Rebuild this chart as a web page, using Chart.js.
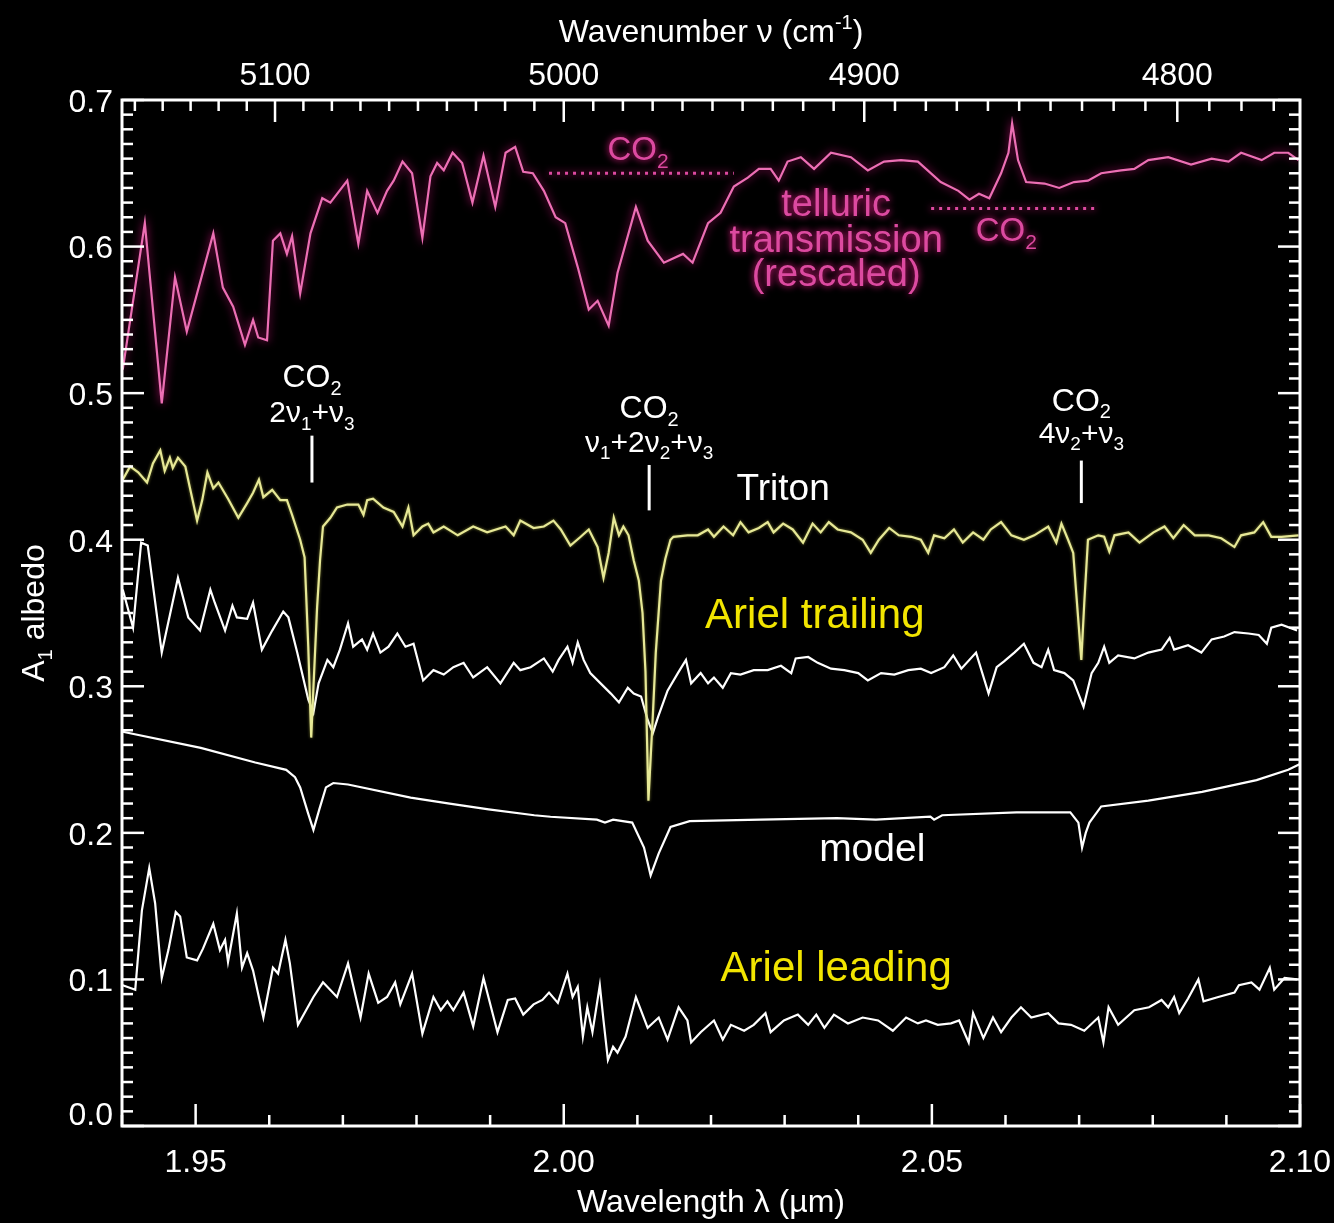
<!DOCTYPE html>
<html>
<head>
<meta charset="utf-8">
<title>Triton / Ariel CO2 spectra</title>
<script src="https://cdn.jsdelivr.net/npm/chart.js@4.4.1/dist/chart.umd.min.js"></script>
<style>
  html, body { margin: 0; padding: 0; background: #000; }
  #wrap { width: 1334px; height: 1223px; }
</style>
</head>
<body>
<div id="wrap"><canvas id="spectra" width="1334" height="1223"></canvas></div>
<script>
// axis ranges and labelled ticks
const wavelengthRange = [1.94, 2.10];
const albedoRange = [0.0, 0.7];
const wavelengthTicks = [1.95, 2.00, 2.05, 2.10];
const wavenumberTicks = [5100, 5000, 4900, 4800];
const albedoTicks = [0.0, 0.1, 0.2, 0.3, 0.4, 0.5, 0.6, 0.7];

// telluric transmission (rescaled)
const telluricWl = [1.9401,1.9431,1.9454,1.9472,1.9488,1.9524,1.9537,1.9551,1.9567,1.9578,
  1.9585,1.9597,1.9605,1.9615,1.9624,1.9631,1.9642,1.9656,1.9672,1.9683,
  1.9706,1.9721,1.9733,1.9747,1.9760,1.9769,1.9781,1.9794,1.9808,1.9819,
  1.9828,1.9837,1.9849,1.9862,1.9876,1.9891,1.9907,1.9921,1.9934,1.9945,
  1.9958,1.9973,1.9989,2.0002,2.0019,2.0034,2.0046,2.0061,2.0073,2.0098,
  2.0114,2.0136,2.0162,2.0175,2.0196,2.0213,2.0231,2.0250,2.0265,2.0281,
  2.0292,2.0304,2.0322,2.0340,2.0363,2.0390,2.0413,2.0435,2.0458,2.0481,
  2.0512,2.0536,2.0551,2.0564,2.0578,2.0594,2.0604,2.0609,2.0617,2.0628,
  2.0653,2.0673,2.0693,2.0712,2.0730,2.0757,2.0775,2.0794,2.0821,2.0852,
  2.0880,2.0903,2.0920,2.0948,2.0965,2.0984,2.0998];
const telluricAlb = [0.516,0.616,0.493,0.579,0.542,0.609,0.572,0.559,0.533,0.550,
  0.538,0.536,0.604,0.609,0.595,0.607,0.568,0.609,0.633,0.630,
  0.645,0.602,0.638,0.623,0.638,0.645,0.658,0.650,0.606,0.648,
  0.657,0.652,0.664,0.657,0.630,0.662,0.627,0.664,0.668,0.651,
  0.650,0.638,0.620,0.616,0.586,0.557,0.563,0.546,0.582,0.627,
  0.604,0.589,0.595,0.589,0.616,0.623,0.641,0.647,0.653,0.653,
  0.645,0.658,0.661,0.653,0.664,0.661,0.652,0.658,0.659,0.658,
  0.644,0.638,0.632,0.636,0.633,0.650,0.664,0.684,0.659,0.644,
  0.643,0.640,0.644,0.645,0.650,0.652,0.653,0.659,0.661,0.656,
  0.660,0.658,0.664,0.659,0.664,0.664,0.659];

// Triton
const tritonWl = [1.9401,1.9411,1.9422,1.9434,1.9442,1.9452,1.9458,1.9465,1.9469,1.9476,
  1.9486,1.9492,1.9502,1.9509,1.9516,1.9524,1.9531,1.9544,1.9558,1.9570,
  1.9578,1.9586,1.9592,1.9604,1.9615,1.9624,1.9631,1.9642,1.9648,1.9650,
  1.9653,1.9657,1.9660,1.9665,1.9669,1.9673,1.9683,1.9692,1.9706,1.9721,
  1.9728,1.9733,1.9741,1.9755,1.9769,1.9781,1.9789,1.9796,1.9808,1.9816,
  1.9823,1.9837,1.9856,1.9877,1.9896,1.9921,1.9932,1.9941,1.9959,1.9973,
  1.9986,1.9996,2.0009,2.0023,2.0034,2.0046,2.0054,2.0061,2.0068,2.0075,
  2.0081,2.0088,2.0095,2.0102,2.0107,2.0111,2.0115,2.0121,2.0125,2.0132,
  2.0138,2.0145,2.0149,2.0168,2.0182,2.0196,2.0204,2.0217,2.0230,2.0240,
  2.0251,2.0265,2.0277,2.0285,2.0298,2.0311,2.0325,2.0338,2.0349,2.0360,
  2.0372,2.0390,2.0406,2.0417,2.0428,2.0442,2.0455,2.0472,2.0485,2.0495,
  2.0503,2.0517,2.0530,2.0542,2.0556,2.0570,2.0580,2.0594,2.0608,2.0625,
  2.0639,2.0658,2.0669,2.0676,2.0685,2.0692,2.0696,2.0703,2.0707,2.0712,
  2.0726,2.0734,2.0741,2.0748,2.0767,2.0782,2.0801,2.0816,2.0828,2.0842,
  2.0857,2.0876,2.0893,2.0911,2.0920,2.0938,2.0950,2.0961,2.0975,2.0998];
const tritonAlb = [0.441,0.450,0.446,0.439,0.452,0.461,0.447,0.456,0.449,0.456,
  0.450,0.436,0.413,0.427,0.446,0.435,0.439,0.428,0.415,0.425,
  0.432,0.441,0.429,0.434,0.427,0.427,0.417,0.400,0.388,0.364,
  0.327,0.265,0.299,0.354,0.386,0.409,0.415,0.422,0.424,0.424,
  0.417,0.427,0.428,0.422,0.419,0.409,0.422,0.403,0.409,0.411,
  0.405,0.409,0.403,0.409,0.405,0.409,0.403,0.413,0.408,0.409,
  0.413,0.407,0.396,0.402,0.407,0.395,0.374,0.391,0.415,0.403,
  0.409,0.403,0.386,0.372,0.350,0.310,0.222,0.280,0.323,0.372,
  0.387,0.400,0.402,0.403,0.403,0.407,0.402,0.409,0.403,0.412,
  0.405,0.408,0.412,0.405,0.411,0.407,0.398,0.411,0.405,0.412,
  0.407,0.405,0.400,0.391,0.400,0.408,0.403,0.402,0.400,0.391,
  0.403,0.401,0.407,0.398,0.405,0.400,0.407,0.412,0.403,0.400,
  0.403,0.409,0.398,0.411,0.400,0.391,0.364,0.318,0.357,0.400,
  0.403,0.402,0.392,0.403,0.405,0.398,0.405,0.409,0.401,0.410,
  0.403,0.403,0.401,0.395,0.403,0.405,0.412,0.402,0.402,0.403];

// Ariel trailing hemisphere
const trailingWl = [1.9401,1.9415,1.9426,1.9435,1.9454,1.9476,1.9490,1.9506,1.9520,1.9526,
  1.9540,1.9550,1.9556,1.9570,1.9578,1.9590,1.9604,1.9619,1.9626,1.9638,
  1.9646,1.9653,1.9660,1.9667,1.9679,1.9687,1.9696,1.9707,1.9714,1.9726,
  1.9733,1.9741,1.9751,1.9762,1.9774,1.9785,1.9796,1.9809,1.9823,1.9837,
  1.9850,1.9864,1.9877,1.9896,1.9914,1.9932,1.9941,1.9955,1.9973,1.9985,
  1.9993,2.0005,2.0012,2.0019,2.0027,2.0036,2.0050,2.0064,2.0075,2.0087,
  2.0095,2.0105,2.0114,2.0121,2.0128,2.0141,2.0155,2.0166,2.0173,2.0186,
  2.0196,2.0204,2.0216,2.0227,2.0240,2.0258,2.0277,2.0295,2.0309,2.0315,
  2.0332,2.0345,2.0363,2.0381,2.0400,2.0413,2.0431,2.0449,2.0468,2.0485,
  2.0499,2.0517,2.0529,2.0540,2.0560,2.0577,2.0588,2.0598,2.0612,2.0625,
  2.0638,2.0649,2.0658,2.0666,2.0680,2.0692,2.0706,2.0717,2.0726,2.0734,
  2.0741,2.0753,2.0775,2.0794,2.0812,2.0823,2.0829,2.0848,2.0866,2.0880,
  2.0897,2.0911,2.0930,2.0944,2.0955,2.0961,2.0975,2.0996];
const trailingAlb = [0.366,0.340,0.398,0.396,0.323,0.374,0.347,0.338,0.366,0.357,
  0.338,0.355,0.347,0.346,0.357,0.325,0.338,0.351,0.347,0.323,
  0.306,0.291,0.282,0.302,0.318,0.313,0.325,0.343,0.327,0.332,
  0.325,0.336,0.323,0.327,0.336,0.327,0.329,0.304,0.311,0.308,
  0.313,0.316,0.306,0.313,0.302,0.316,0.311,0.313,0.319,0.310,
  0.318,0.327,0.316,0.330,0.318,0.309,0.302,0.295,0.289,0.299,
  0.295,0.293,0.277,0.268,0.279,0.297,0.309,0.318,0.302,0.309,
  0.302,0.306,0.299,0.309,0.308,0.311,0.311,0.314,0.309,0.319,
  0.320,0.316,0.312,0.311,0.309,0.304,0.309,0.308,0.311,0.312,
  0.309,0.313,0.321,0.312,0.323,0.295,0.313,0.317,0.323,0.329,
  0.316,0.313,0.325,0.311,0.309,0.304,0.286,0.309,0.316,0.327,
  0.316,0.321,0.319,0.323,0.325,0.333,0.325,0.328,0.323,0.332,
  0.334,0.337,0.336,0.335,0.329,0.340,0.342,0.338];

// model spectrum
const modelWl = [1.9401,1.9507,1.9581,1.9623,1.9635,1.9642,1.9653,1.9660,1.9668,1.9677,
  1.9687,1.9707,1.9792,1.9845,1.9898,1.9960,1.9982,2.0045,2.0056,2.0067,
  2.0093,2.0109,2.0118,2.0129,2.0145,2.0171,2.0267,2.0371,2.0424,2.0498,
  2.0503,2.0514,2.0615,2.0688,2.0699,2.0704,2.0709,2.0714,2.0730,2.0794,
  2.0867,2.0941,2.0984,2.1000];
const modelAlb = [0.269,0.258,0.248,0.243,0.238,0.231,0.213,0.202,0.216,0.231,
  0.234,0.233,0.224,0.220,0.216,0.212,0.211,0.209,0.207,0.209,
  0.207,0.190,0.171,0.186,0.204,0.208,0.209,0.210,0.209,0.211,
  0.209,0.212,0.214,0.214,0.207,0.190,0.200,0.207,0.218,0.222,
  0.228,0.236,0.243,0.247];

// Ariel leading hemisphere
const leadingWl = [1.9401,1.9418,1.9427,1.9437,1.9445,1.9454,1.9463,1.9473,1.9479,1.9488,
  1.9502,1.9510,1.9524,1.9533,1.9540,1.9544,1.9556,1.9563,1.9570,1.9578,
  1.9592,1.9605,1.9612,1.9622,1.9628,1.9639,1.9660,1.9673,1.9692,1.9707,
  1.9724,1.9735,1.9748,1.9760,1.9771,1.9778,1.9794,1.9808,1.9823,1.9833,
  1.9842,1.9850,1.9864,1.9877,1.9891,1.9910,1.9924,1.9934,1.9945,1.9959,
  1.9971,1.9980,1.9992,2.0005,2.0012,2.0019,2.0026,2.0032,2.0039,2.0049,
  2.0054,2.0060,2.0067,2.0073,2.0084,2.0098,2.0114,2.0129,2.0141,2.0156,
  2.0168,2.0173,2.0186,2.0204,2.0216,2.0227,2.0245,2.0258,2.0274,2.0281,
  2.0299,2.0318,2.0332,2.0343,2.0354,2.0367,2.0386,2.0406,2.0427,2.0447,
  2.0465,2.0481,2.0492,2.0508,2.0526,2.0537,2.0550,2.0556,2.0570,2.0583,
  2.0594,2.0608,2.0621,2.0635,2.0658,2.0672,2.0689,2.0707,2.0726,2.0733,
  2.0740,2.0753,2.0775,2.0795,2.0812,2.0821,2.0829,2.0836,2.0848,2.0862,
  2.0869,2.0889,2.0911,2.0917,2.0934,2.0945,2.0959,2.0965,2.0979,2.0996];
const leadingAlb = [0.096,0.093,0.147,0.176,0.152,0.101,0.120,0.146,0.143,0.115,
  0.113,0.121,0.138,0.120,0.127,0.112,0.145,0.108,0.118,0.106,
  0.074,0.108,0.104,0.127,0.111,0.069,0.088,0.098,0.088,0.111,
  0.074,0.104,0.084,0.088,0.098,0.083,0.104,0.063,0.088,0.079,
  0.085,0.079,0.091,0.068,0.101,0.064,0.086,0.087,0.076,0.083,
  0.086,0.091,0.084,0.104,0.088,0.095,0.061,0.081,0.064,0.096,
  0.072,0.045,0.054,0.050,0.061,0.088,0.067,0.074,0.059,0.081,
  0.072,0.057,0.064,0.072,0.059,0.069,0.065,0.069,0.077,0.064,
  0.072,0.076,0.069,0.076,0.067,0.076,0.070,0.074,0.072,0.065,
  0.074,0.070,0.072,0.069,0.070,0.072,0.057,0.077,0.060,0.074,
  0.064,0.074,0.081,0.074,0.077,0.070,0.069,0.065,0.074,0.057,
  0.081,0.069,0.079,0.081,0.086,0.081,0.088,0.077,0.087,0.100,
  0.085,0.088,0.091,0.096,0.098,0.093,0.108,0.093,0.101,0.100];

// CO2 bands marked on the plot
const bandWl = [1.9658, 2.0116, 2.0703];
const bandModes = ["2ν_{1}+ν_{3}", "ν_{1}+2ν_{2}+ν_{3}", "4ν_{2}+ν_{3}"];
// telluric CO2 band extents
const telluricBandRanges = [[1.9980, 2.0231], [2.0499, 2.0721]];

const FONT = '"Liberation Sans", Arial, Helvetica, sans-serif';
const MAGENTA = "#dc4aa0";
const YELLOW = "#f2e500";

function pairs(wl, alb) {
  return wl.map((w, i) => ({ x: w, y: alb[i] }));
}

// tiny rich-text: "CO_{2}" -> subscript, "cm^{-1}" -> superscript
function richParts(str) {
  const parts = [];
  const re = /([_^])\{([^}]*)\}|[^_^]+/g;
  let m;
  while ((m = re.exec(str))) {
    if (m[1]) parts.push({ t: m[2], s: m[1] === "_" ? "sub" : "sup" });
    else parts.push({ t: m[0], s: null });
  }
  return parts;
}

function drawRich(ctx, str, x, y, size, align) {
  const parts = richParts(str);
  const small = Math.round(size * 0.64);
  let w = 0;
  parts.forEach(p => {
    ctx.font = `${p.s ? small : size}px ${FONT}`;
    p.w = ctx.measureText(p.t).width;
    w += p.w;
  });
  let cx = align === "left" ? x : align === "right" ? x - w : x - w / 2;
  ctx.textAlign = "left";
  ctx.textBaseline = "alphabetic";
  parts.forEach(p => {
    ctx.font = `${p.s ? small : size}px ${FONT}`;
    const dy = p.s === "sub" ? size * 0.24 : p.s === "sup" ? -size * 0.4 : 0;
    ctx.fillText(p.t, cx, y + dy);
    cx += p.w;
  });
}

const spectrumFrame = {
  id: "spectrumFrame",
  beforeDraw(chart) {
    const { ctx, width, height } = chart;
    ctx.save();
    ctx.fillStyle = "#000";
    ctx.fillRect(0, 0, width, height);
    ctx.restore();
  },
  beforeDatasetDraw(chart, args) {
    const ds = chart.data.datasets[args.index];
    if (ds.glowColor) {
      chart.ctx.save();
      chart.ctx.shadowColor = ds.glowColor;
      chart.ctx.shadowBlur = ds.glowBlur;
    }
  },
  afterDatasetDraw(chart, args) {
    const ds = chart.data.datasets[args.index];
    if (ds.glowColor) chart.ctx.restore();
  },
  afterDatasetsDraw(chart) {
    const { ctx, chartArea: a, scales } = chart;
    const X = v => scales.x.getPixelForValue(v);
    const Y = v => scales.y.getPixelForValue(v);
    const seg = (x1, y1, x2, y2) => {
      ctx.beginPath();
      ctx.moveTo(x1, y1);
      ctx.lineTo(x2, y2);
      ctx.stroke();
    };
    const near = (list, v, eps) => list.some(t => Math.abs(t - v) < eps);

    ctx.save();
    ctx.strokeStyle = "#fff";
    ctx.fillStyle = "#fff";
    ctx.lineWidth = 3;
    ctx.strokeRect(a.left, a.top, a.right - a.left, a.bottom - a.top);

    ctx.lineWidth = 2.5;
    // bottom wavelength ticks, every 0.01 um
    for (let v = wavelengthRange[0]; v <= wavelengthRange[1] + 1e-9; v += 0.01) {
      const px = X(v);
      const len = near(wavelengthTicks, v, 1e-6) ? 22 : 11;
      seg(px, a.bottom, px, a.bottom - len);
    }
    // top wavenumber ticks, every 10 cm-1
    const wnHi = Math.floor(1e4 / wavelengthRange[0] / 10) * 10;
    const wnLo = Math.ceil(1e4 / wavelengthRange[1] / 10) * 10;
    for (let wn = wnLo; wn <= wnHi; wn += 10) {
      const px = X(1e4 / wn);
      const len = wn % 100 === 0 ? 22 : 11;
      seg(px, a.top, px, a.top + len);
    }
    // albedo ticks left and right, every 0.01
    for (let i = 0; i <= Math.round((albedoRange[1] - albedoRange[0]) / 0.01); i++) {
      const v = albedoRange[0] + i * 0.01;
      const py = Y(v);
      const len = near(albedoTicks, v, 1e-6) ? 22 : 11;
      seg(a.left, py, a.left + len, py);
      seg(a.right, py, a.right - len, py);
    }

    // tick labels
    ctx.font = `32px ${FONT}`;
    ctx.textAlign = "center";
    ctx.textBaseline = "alphabetic";
    wavelengthTicks.forEach(v => ctx.fillText(v.toFixed(2), X(v), a.bottom + 46));
    wavenumberTicks.forEach(wn => ctx.fillText(String(wn), X(1e4 / wn), a.top - 15));
    ctx.textAlign = "right";
    ctx.textBaseline = "middle";
    albedoTicks.forEach(v => ctx.fillText(v.toFixed(1), a.left - 9, Math.min(Y(v) + 3, a.bottom - 10)));

    // axis titles
    drawRich(ctx, "Wavenumber ν (cm^{-1})", (a.left + a.right) / 2, a.top - 58, 32, "center");
    drawRich(ctx, "Wavelength λ (µm)", (a.left + a.right) / 2, a.bottom + 86, 32, "center");
    ctx.save();
    ctx.translate(44, (a.top + a.bottom) / 2);
    ctx.rotate(-Math.PI / 2);
    drawRich(ctx, "A_{1} albedo", 0, 0, 32, "center");
    ctx.restore();

    // CO2 band markers
    const bandLayout = [
      { name: 0.504, mode: 0.480, from: 0.471, to: 0.439 },
      { name: 0.483, mode: 0.460, from: 0.451, to: 0.420 },
      { name: 0.488, mode: 0.466, from: 0.454, to: 0.425 }
    ];
    ctx.lineWidth = 3;
    bandWl.forEach((w, i) => {
      const L = bandLayout[i];
      drawRich(ctx, "CO_{2}", X(w), Y(L.name), 32, "center");
      drawRich(ctx, bandModes[i], X(w), Y(L.mode), 30, "center");
      seg(X(w), Y(L.from), X(w), Y(L.to));
    });

    // series labels
    ctx.fillStyle = "#fff";
    drawRich(ctx, "Triton", X(2.0298), Y(0.427), 37, "center");
    drawRich(ctx, "model", X(2.0419), Y(0.181), 39, "center");
    ctx.fillStyle = YELLOW;
    drawRich(ctx, "Ariel trailing", X(2.0341), Y(0.340), 42, "center");
    drawRich(ctx, "Ariel leading", X(2.0370), Y(0.099), 42, "center");

    // telluric labels with a magenta glow
    ctx.shadowColor = "#ff1f93";
    ctx.shadowBlur = 7;
    ctx.fillStyle = MAGENTA;
    ctx.strokeStyle = MAGENTA;
    drawRich(ctx, "telluric", X(2.0370), Y(0.621), 38, "center");
    drawRich(ctx, "transmission", X(2.0370), Y(0.596), 38, "center");
    drawRich(ctx, "(rescaled)", X(2.0370), Y(0.573), 38, "center");
    drawRich(ctx, "CO_{2}", X(2.0101), Y(0.659), 33, "center");
    drawRich(ctx, "CO_{2}", X(2.0601), Y(0.604), 33, "center");
    ctx.lineWidth = 3;
    ctx.setLineDash([3, 5]);
    const bandLevels = [0.650, 0.626];
    telluricBandRanges.forEach((r, i) => seg(X(r[0]), Y(bandLevels[i]), X(r[1]), Y(bandLevels[i])));
    ctx.restore();
  }
};

const hidden = { display: false };
const canvas = document.getElementById("spectra");
new Chart(canvas, {
  type: "line",
  data: {
    datasets: [
      { label: "Triton", data: pairs(tritonWl, tritonAlb), borderColor: "#e6e896", borderWidth: 2.2, glowColor: "rgba(200,200,80,0.6)", glowBlur: 3 },
      { label: "telluric transmission", data: pairs(telluricWl, telluricAlb), borderColor: "#ec6fb4", borderWidth: 2.2, glowColor: "#b8126e", glowBlur: 8 },
      { label: "Ariel trailing", data: pairs(trailingWl, trailingAlb), borderColor: "#ffffff", borderWidth: 2.2 },
      { label: "model", data: pairs(modelWl, modelAlb), borderColor: "#ffffff", borderWidth: 2.2 },
      { label: "Ariel leading", data: pairs(leadingWl, leadingAlb), borderColor: "#ffffff", borderWidth: 2.2 }
    ].map(d => Object.assign(d, { xAxisID: "x", yAxisID: "y", fill: false }))
  },
  options: {
    responsive: false,
    animation: false,
    layout: { padding: 0 },
    elements: { point: { radius: 0 }, line: { tension: 0 } },
    plugins: { legend: hidden, tooltip: { enabled: false } },
    scales: {
      x: {
        type: "linear", position: "bottom",
        min: wavelengthRange[0], max: wavelengthRange[1],
        grid: hidden, border: hidden, ticks: hidden,
        afterFit: s => { s.height = 97; }
      },
      xTop: {
        type: "linear", position: "top",
        min: wavelengthRange[0], max: wavelengthRange[1],
        grid: hidden, border: hidden, ticks: hidden,
        afterFit: s => { s.height = 100; }
      },
      y: {
        type: "linear", position: "left",
        min: albedoRange[0], max: albedoRange[1],
        grid: hidden, border: hidden, ticks: hidden,
        afterFit: s => { s.width = 122; }
      },
      yRight: {
        type: "linear", position: "right",
        min: albedoRange[0], max: albedoRange[1],
        grid: hidden, border: hidden, ticks: hidden,
        afterFit: s => { s.width = 34; }
      }
    }
  },
  plugins: [spectrumFrame]
});
</script>
</body>
</html>
